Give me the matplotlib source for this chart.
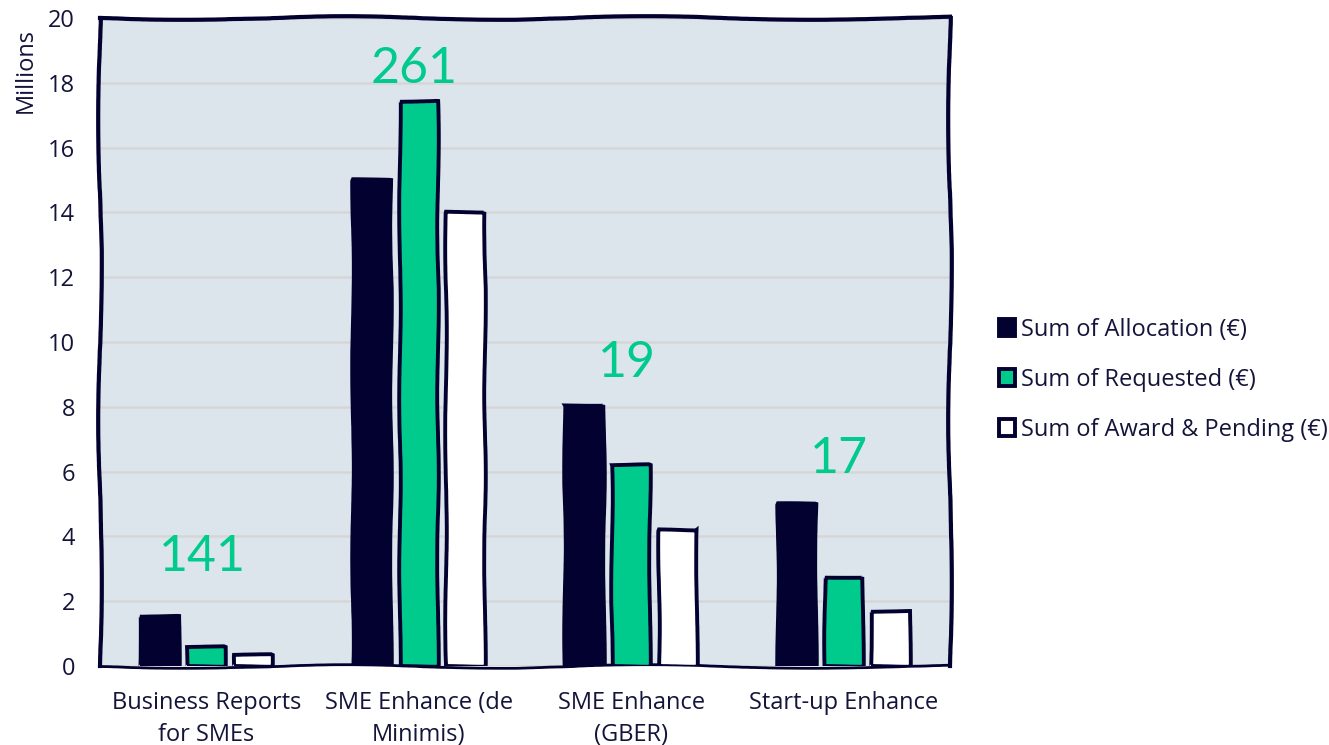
import matplotlib
matplotlib.use("Agg")
import matplotlib.pyplot as plt
import numpy as np
from matplotlib.patches import Rectangle

plt.rcParams['font.family'] = ['Open Sans', 'DejaVu Sans']

categories = ["Business Reports\nfor SMEs", "SME Enhance (de\nMinimis)",
              "SME Enhance\n(GBER)", "Start-up Enhance"]
series_names = ["Sum of Allocation (€)", "Sum of Requested (€)",
                "Sum of Award & Pending (€)"]
allocation = [1.55, 15.0, 8.05, 5.0]
requested = [0.58, 17.45, 6.2, 2.75]
award_pending = [0.35, 14.0, 4.2, 1.7]
counts = ["141", "261", "19", "17"]
y_ticks = [0, 2, 4, 6, 8, 10, 12, 14, 16, 18, 20]

NAVY = "#02012f"
TEXT = "#14143a"
GREEN = "#00cb8c"
BG = "#dce5ec"
GRID = "#d6d6d8"

fig = plt.figure(figsize=(13.29, 7.45), dpi=100)
ax = fig.add_axes([0.0752, 0.106, 0.6396, 0.8698])
ax.set_facecolor(BG)

x = np.arange(len(categories))
width = 0.18
step = 0.22
series = [allocation, requested, award_pending]
fills = [NAVY, GREEN, "white"]

for i, (vals, fc) in enumerate(zip(series, fills)):
    bars = ax.bar(x + (i - 1) * step, vals, width, color=fc, edgecolor=NAVY,
                  linewidth=2.8, zorder=3)
    for b in bars:
        b.set_sketch_params(scale=0.8, length=250, randomness=4)

# group counts written above each cluster
label_gaps = [32, 13, 20, 22]
for xi, c, gap in zip(x, counts, label_gaps):
    top = max(s[xi] for s in series)
    ax.annotate(c, (xi - 0.02, top), xytext=(0, gap), textcoords="offset points",
                ha="center", va="baseline", fontsize=36, color=GREEN,
                family=["Lato", "DejaVu Sans"], zorder=5)

ax.set_xlim(-0.5, 3.5)
ax.set_ylim(0, 20)
ax.set_yticks(y_ticks)
ax.set_xticks(x)
ax.set_xticklabels(categories, linespacing=1.45)
ax.tick_params(axis="both", length=0, labelsize=17, colors=TEXT)
ax.tick_params(axis="y", pad=18)
ax.tick_params(axis="x", pad=18)
ax.yaxis.grid(True, color=GRID, linewidth=1.8, zorder=0)
ax.set_axisbelow(True)

for sp in ax.spines.values():
    sp.set_color(NAVY)
    sp.set_linewidth(3)
    sp.set_sketch_params(scale=1.8, length=500, randomness=5)
ax.spines["bottom"].set_linewidth(2)

fig.text(0.019, 0.963, "Millions", rotation=90, ha="center", va="top",
         fontsize=17, color=TEXT)

handles = [Rectangle((0, 0), 1, 1, facecolor=fc, edgecolor=NAVY, linewidth=2.8)
           for fc in fills]
leg = fig.legend(handles, series_names, loc="center left",
                 bbox_to_anchor=(0.736, 0.490), frameon=False, fontsize=17,
                 handlelength=0.65, handleheight=0.75, handletextpad=0.25,
                 labelspacing=1.1, labelcolor=TEXT)

fig.savefig("out.png", dpi=100)
